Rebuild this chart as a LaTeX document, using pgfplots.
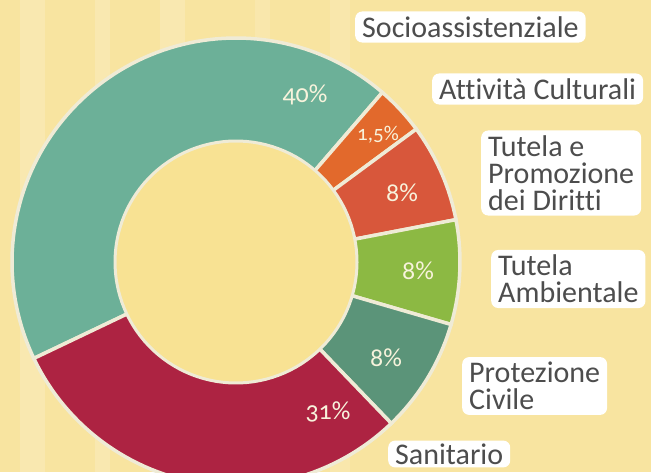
\documentclass[border=0pt]{standalone}
\usepackage{pgfplots}
\pgfplotsset{compat=1.18}
\usepackage{fontspec}
\setmainfont{Carlito}[Ligatures={NoCommon}]
\newfontfamily\pctfont[Numbers=OldStyle]{Carlito}
\definecolor{bg}{HTML}{F8E4A0}
\definecolor{bgl}{HTML}{FBEDC0}
\definecolor{innerc}{HTML}{F8E293}
\definecolor{cream}{HTML}{EFEBD6}
\definecolor{socio}{HTML}{6CB098}
\definecolor{cult}{HTML}{E2692C}
\definecolor{dir}{HTML}{D8573B}
\definecolor{amb}{HTML}{8CB943}
\definecolor{prot}{HTML}{5B9479}
\definecolor{sani}{HTML}{AD2342}
\definecolor{txt}{HTML}{4D4D4D}
\definecolor{pct}{HTML}{F8F3DC}
\begin{document}
\begin{tikzpicture}
\begin{axis}[width=651pt,height=472pt,scale only axis,
  xmin=0,xmax=651,ymin=0,ymax=472,hide axis,clip=true]
% background
\addplot[fill=bg,draw=none] coordinates {(0,0)(651,0)(651,472)(0,472)} -- cycle;
\addplot[fill=bgl,draw=none,opacity=0.5] coordinates {(20,0)(45,0)(45,472)(20,472)} -- cycle;
\addplot[fill=bgl,draw=none,opacity=0.5] coordinates {(95,0)(110,0)(110,472)(95,472)} -- cycle;
\addplot[fill=bgl,draw=none,opacity=0.5] coordinates {(160,0)(185,0)(185,472)(160,472)} -- cycle;
\addplot[fill=bgl,draw=none,opacity=0.4] coordinates {(255,0)(270,0)(270,472)(255,472)} -- cycle;
\addplot[fill=bgl,draw=none,opacity=0.4] coordinates {(330,0)(350,0)(350,472)(330,472)} -- cycle;
% donut sectors (angles in degrees)
\addplot[fill=socio,draw=cream,line width=3.5pt,domain=49.2:205.5,samples=90,variable=\t] ({236+224*cos(t)},{210+224*sin(t)}) -- (236,210) -- cycle;
\addplot[fill=cult,draw=cream,line width=3.5pt,domain=36.4:49.2,samples=12,variable=\t] ({236+224*cos(t)},{210+224*sin(t)}) -- (236,210) -- cycle;
\addplot[fill=dir,draw=cream,line width=3.5pt,domain=10.9:36.4,samples=20,variable=\t] ({236+224*cos(t)},{210+224*sin(t)}) -- (236,210) -- cycle;
\addplot[fill=amb,draw=cream,line width=3.5pt,domain=-16.2:10.9,samples=20,variable=\t] ({236+224*cos(t)},{210+224*sin(t)}) -- (236,210) -- cycle;
\addplot[fill=prot,draw=cream,line width=3.5pt,domain=-46.1:-16.2,samples=20,variable=\t] ({236+224*cos(t)},{210+224*sin(t)}) -- (236,210) -- cycle;
\addplot[fill=sani,draw=cream,line width=3.5pt,domain=-154.5:-46.1,samples=60,variable=\t] ({236+224*cos(t)},{210+224*sin(t)}) -- (236,210) -- cycle;
% hole
\addplot[fill=innerc,draw=cream,line width=3pt,domain=0:360,samples=120,variable=\t] ({236+121*cos(t)},{210+121*sin(t)}) -- cycle;
% percent labels
\node[text=pct,font=\pctfont\fontsize{26}{26}\selectfont] at (305,377) {40\%};
\node[text=pct,font=\pctfont\fontsize{21}{21}\selectfont] at (378,337) {1,5\%};
\node[text=pct,font=\pctfont\fontsize{26}{26}\selectfont] at (402,279) {8\%};
\node[text=pct,font=\pctfont\fontsize{26}{26}\selectfont] at (418,201) {8\%};
\node[text=pct,font=\pctfont\fontsize{26}{26}\selectfont] at (386,114) {8\%};
\node[text=pct,font=\pctfont\fontsize{26}{26}\selectfont] at (328,60) {31\%};
% category labels
\tikzset{lab/.style={fill=white,rounded corners=7pt,anchor=west,align=left,text=txt,
  inner xsep=7pt,inner ysep=5pt,font=\fontsize{30}{27}\selectfont}}
\node[lab] at (355,445) {Socioassistenziale};
\node[lab] at (432,383) {Attività Culturali};
\node[lab] at (481,299) {Tutela e\\Promozione\\dei Diritti};
\node[lab] at (491,193) {Tutela\\Ambientale};
\node[lab] at (462,86) {Protezione\\Civile};
\node[lab,inner ysep=3pt] at (388,18) {Sanitario};
\end{axis}
\end{tikzpicture}
\end{document}
